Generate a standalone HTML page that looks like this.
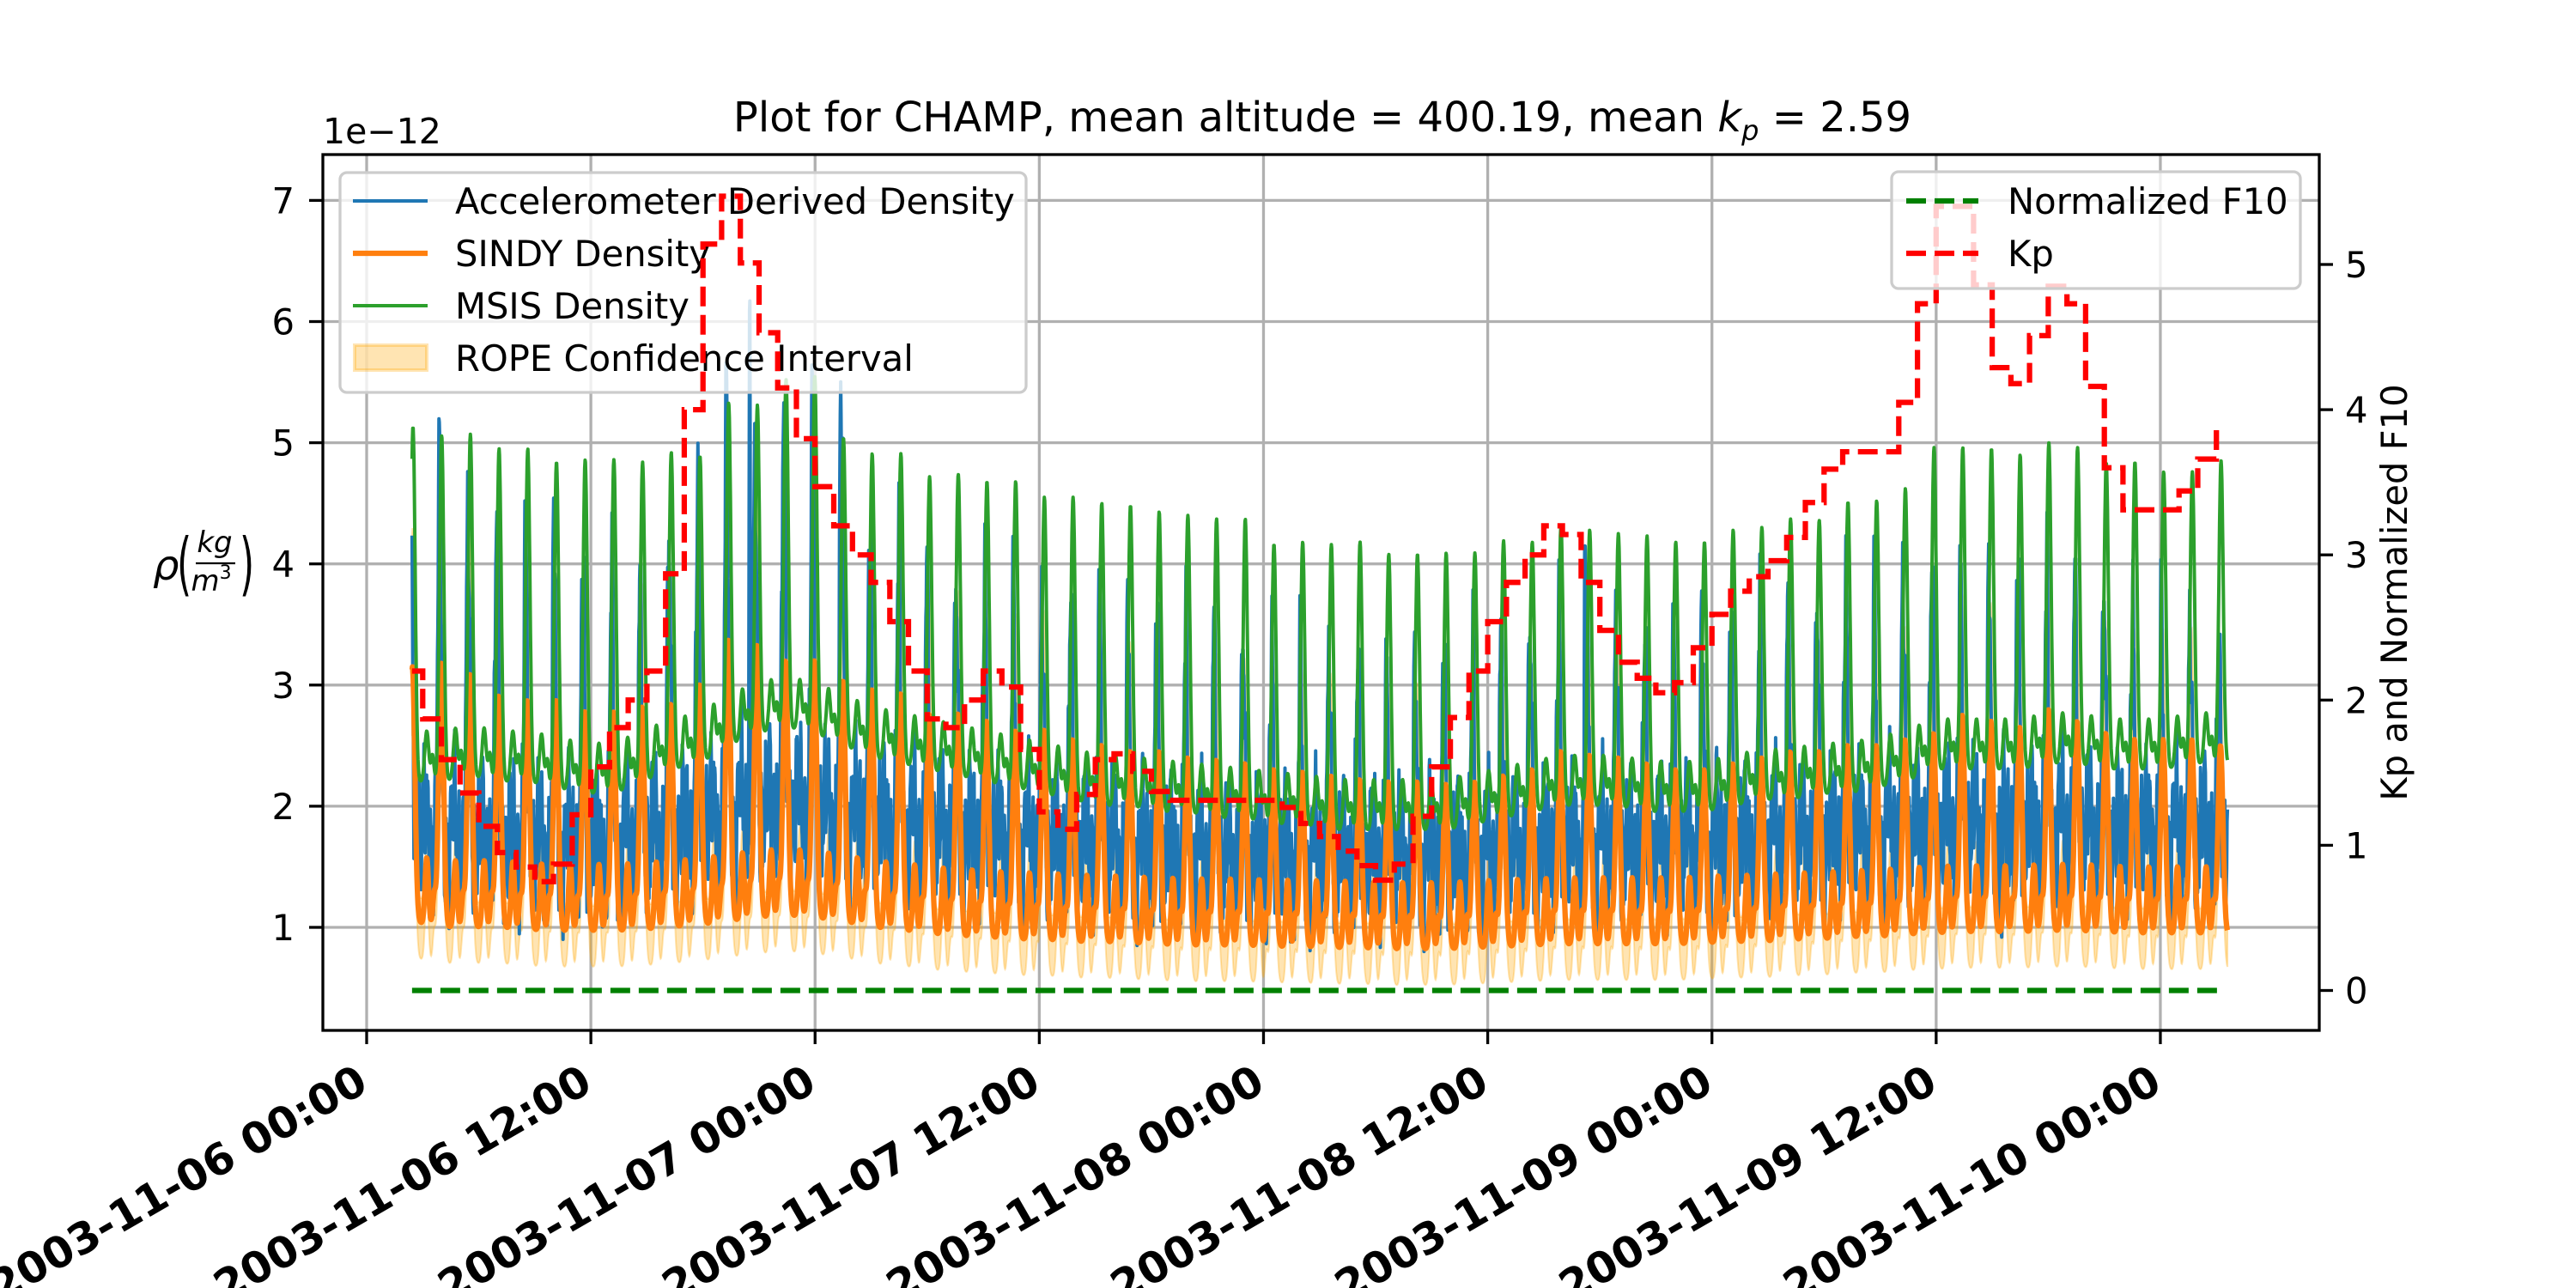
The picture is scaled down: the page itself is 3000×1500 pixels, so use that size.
<!DOCTYPE html>
<html>
<head>
<meta charset="utf-8">
<style>
  html,body{margin:0;padding:0;background:#fff;}
  svg{display:block;}
  text{font-family:"DejaVu Sans","Liberation Sans",sans-serif;fill:#000;}
</style>
</head>
<body>
<svg id="chart" xmlns="http://www.w3.org/2000/svg" width="3000" height="1500" viewBox="0 0 3000 1500">
  <defs>
    <clipPath id="plotclip"><rect x="376" y="180" width="2325" height="1020"/></clipPath>
  </defs>
  <rect x="0" y="0" width="3000" height="1500" fill="#fff"/>
  <text x="1540" y="153" font-size="48" text-anchor="middle">Plot for CHAMP, mean altitude = 400.19, mean <tspan font-style="italic">k</tspan><tspan font-style="italic" font-size="32" dy="10">p</tspan><tspan dy="-10"> = 2.59</tspan></text>
  <text x="376" y="167" font-size="41">1e−12</text>
  <g id="grid"></g>
  <g id="series1" clip-path="url(#plotclip)"></g>
  <g id="legend1">
    <rect x="396" y="201" width="799" height="256" rx="8" fill="#fff" fill-opacity="0.8" stroke="#cccccc" stroke-width="3.3"/>
    <line x1="411" y1="234" x2="498" y2="234" stroke="#1f77b4" stroke-width="4"/>
    <text x="530" y="249" font-size="41.7">Accelerometer Derived Density</text>
    <line x1="411" y1="295" x2="498" y2="295" stroke="#ff7f0e" stroke-width="6.25"/>
    <text x="530" y="310" font-size="41.7">SINDY Density</text>
    <line x1="411" y1="356" x2="498" y2="356" stroke="#2ca02c" stroke-width="4"/>
    <text x="530" y="371" font-size="41.7">MSIS Density</text>
    <rect x="413" y="402" width="84" height="29" fill="#ffa500" fill-opacity="0.3" stroke="#ffa500" stroke-opacity="0.3" stroke-width="4"/>
    <text x="530" y="432" font-size="41.7">ROPE Confidence Interval</text>
  </g>
  <g id="series2" clip-path="url(#plotclip)"></g>
  <g id="legend2">
    <rect x="2203" y="200" width="476" height="136" rx="8" fill="#fff" fill-opacity="0.8" stroke="#cccccc" stroke-width="3.3"/>
    <line x1="2220" y1="234" x2="2304" y2="234" stroke="#008000" stroke-width="6.25" stroke-dasharray="23 10"/>
    <text x="2338" y="249" font-size="41.7">Normalized F10</text>
    <line x1="2220" y1="295" x2="2304" y2="295" stroke="#ff0000" stroke-width="6.25" stroke-dasharray="23 10"/>
    <text x="2338" y="310" font-size="41.7">Kp</text>
  </g>
  <rect x="376" y="180" width="2325" height="1020" fill="none" stroke="#000" stroke-width="3.3"/>
  <g id="axes"></g>
  <g>
    <text x="178" y="675" font-size="48" font-style="italic">ρ</text>
    <text x="206" y="684" font-size="80" transform="translate(206 684) scale(0.55 1) translate(-206 -684)">(</text>
    <text x="250" y="643" font-size="34" font-style="italic" text-anchor="middle">kg</text>
    <line x1="228" y1="656" x2="274" y2="656" stroke="#000" stroke-width="2.2"/>
    <text x="246" y="688" font-size="34" font-style="italic" text-anchor="middle">m<tspan font-size="22" font-style="normal" dy="-14">3</tspan></text>
    <text x="279" y="684" font-size="80" transform="translate(279 684) scale(0.55 1) translate(-279 -684)">)</text>
  </g>
  <text x="0" y="0" font-size="41.7" text-anchor="middle" transform="translate(2803 690) rotate(-90)">Kp and Normalized F10</text>
</svg>
<script>
// ---- data ----
const xTickLabels = ["2003-11-06 00:00","2003-11-06 12:00","2003-11-07 00:00","2003-11-07 12:00","2003-11-08 00:00","2003-11-08 12:00","2003-11-09 00:00","2003-11-09 12:00","2003-11-10 00:00"];
const xTickHours = [0,12,24,36,48,60,72,84,96];
const leftTicks = [1,2,3,4,5,6,7];
const rightTicks = [0,1,2,3,4,5];
const kpStartHour = 2;
const kpValues = [2.2,1.87,1.59,1.36,1.13,0.95,0.85,0.75,0.87,1.21,
1.54,1.81,2.0,2.2,2.87,4.0,5.14,5.47,5.01,4.53,
4.15,3.8,3.47,3.2,3.0,2.81,2.54,2.2,1.87,1.81,
2.0,2.2,2.09,1.66,1.23,1.11,1.35,1.59,1.63,1.51,
1.37,1.31,1.31,1.31,1.31,1.31,1.31,1.26,1.15,1.06,
0.96,0.86,0.76,0.87,1.2,1.54,1.88,2.2,2.54,2.81,
3.0,3.2,3.14,2.81,2.48,2.26,2.15,2.05,2.12,2.36,
2.59,2.75,2.85,2.96,3.12,3.36,3.59,3.71,3.71,3.71,
4.05,4.73,5.4,5.4,4.86,4.29,4.18,4.51,4.85,4.73,
4.16,3.6,3.31,3.31,3.31,3.44,3.66,3.9];
const f10Value = 0;
const msisPeak = [5.13,5.06,5.07,4.95,4.95,4.84,4.86,4.86,4.84,4.92,
4.89,5.33,5.31,5.52,5.55,5.04,4.91,4.91,4.72,4.74,
4.68,4.68,4.55,4.55,4.5,4.48,4.43,4.4,4.37,4.37,
4.16,4.18,4.16,4.18,4.08,4.08,4.09,4.09,4.19,4.18,
4.31,4.28,4.25,4.23,4.18,4.18,4.28,4.3,4.37,4.36,
4.51,4.52,4.62,4.96,4.96,4.95,4.9,5.0,4.96,4.83,
4.84,4.76,4.76,4.85];
const msisTrough = [2.2,2.2,2.25,2.2,2.2,2.15,2.1,2.1,2.2,2.3,
2.35,2.5,2.6,2.65,2.6,2.5,2.4,2.35,2.3,2.25,
2.2,2.15,2.1,2.05,2.0,2.0,1.95,1.95,1.9,1.9,
1.85,1.85,1.8,1.8,1.8,1.8,1.8,1.85,1.9,1.95,
2.0,2.0,2.0,1.95,1.95,1.95,2.0,2.05,2.05,2.1,
2.1,2.15,2.2,2.3,2.3,2.3,2.3,2.35,2.35,2.3,
2.3,2.3,2.35,2.35];
const sindyPeak = [3.15,3.18,3.09,2.91,2.87,2.87,2.78,2.78,2.82,2.84,
3.0,3.37,3.33,3.2,3.2,3.03,2.96,2.93,2.76,2.76,
2.7,2.62,2.63,2.55,2.5,2.45,2.45,2.4,2.38,2.35,
2.3,2.28,2.25,2.22,2.2,2.2,2.18,2.2,2.25,2.3,
2.45,2.42,2.4,2.35,2.3,2.3,2.35,2.4,2.45,2.45,
2.5,2.5,2.55,2.6,2.75,2.7,2.65,2.8,2.7,2.6,
2.55,2.55,2.55,2.5];
const sindyTrough = [1.05,1.0,1.0,1.0,0.98,0.97,0.97,0.97,0.98,1.0,
1.02,1.05,1.08,1.1,1.08,1.05,1.0,0.98,0.95,0.93,
0.92,0.9,0.9,0.88,0.88,0.87,0.86,0.85,0.85,0.85,
0.84,0.84,0.83,0.83,0.82,0.82,0.82,0.83,0.84,0.85,
0.86,0.86,0.86,0.86,0.86,0.87,0.88,0.88,0.9,0.9,
0.92,0.92,0.94,0.95,0.96,0.96,0.96,0.97,0.97,0.96,
0.95,0.95,0.95,0.95];
const accelPeak = [4.95,4.8,4.5,4.5,4.3,4.3,4.05,3.95,3.85,4.3,
4.57,5.27,4.9,5.4,5.47,5.29,4.3,4.2,4.0,3.9,
3.9,3.8,3.7,3.75,3.7,3.6,3.6,3.5,3.5,3.4,
3.3,3.3,3.2,3.2,3.1,3.15,3.2,3.3,3.4,3.5,
3.6,3.5,3.5,3.4,3.4,3.5,3.5,3.6,3.7,3.7,
3.8,3.8,3.9,4.0,3.9,3.9,4.0,3.95,3.9,3.8,
3.6,3.6,3.5,3.3];
const accelTrough = [1.6,1.6,1.55,1.55,1.5,1.5,1.5,1.5,1.55,1.6,
1.65,1.75,1.8,1.85,1.8,1.75,1.7,1.65,1.6,1.6,
1.55,1.55,1.5,1.5,1.5,1.45,1.45,1.45,1.4,1.4,
1.4,1.4,1.4,1.4,1.4,1.4,1.4,1.4,1.45,1.45,
1.5,1.5,1.5,1.5,1.5,1.5,1.5,1.55,1.55,1.55,
1.6,1.6,1.6,1.65,1.65,1.65,1.65,1.65,1.65,1.6,
1.6,1.6,1.6,1.6];
const accelSpikeHours = [20.5, 25.5, 65.2, 87.5];
const accelSpikeValues = [6.95, 5.29, 4.55, 0.75];
const dataStartHour = 2.43;
const dataEndHour = 99.6;
const kpEndHour = 99.1;
const firstPeakHour = 2.48;
const orbitHours = 1.536;

// ---- axis functions ----
const X0 = 427, PXH = 21.76;
function xs(h){ return X0 + h*PXH; }
function yl(v){ return 1080 - (v-1)*141.1; }
function yr(k){ return 1153.5 - k*169.1; }

const NS = "http://www.w3.org/2000/svg";
function mk(tag, attrs, parent){
  const e = document.createElementNS(NS, tag);
  for (const k in attrs) e.setAttribute(k, attrs[k]);
  parent.appendChild(e);
  return e;
}
function G(x,s){ return Math.exp(-x*x/(2*s*s)); }
function interpArr(arr,u){
  if (u<=0) return arr[0];
  if (u>=arr.length-1) return arr[arr.length-1];
  const i=Math.floor(u), f=u-i;
  return arr[i]*(1-f)+arr[i+1]*f;
}

// ---- grid ----
const grid = document.getElementById('grid');
xTickHours.forEach(h=>{
  const l = mk('line',{x1:xs(h),x2:xs(h),y1:180,y2:1200,stroke:'#b0b0b0','stroke-width':3.3},grid);
  
  
});
leftTicks.forEach(v=>{
  const l = mk('line',{x1:376,x2:2701,y1:yl(v),y2:yl(v),stroke:'#b0b0b0','stroke-width':3.3},grid);
  
  
});

// ---- series ----
const T=[]; for(let t=dataStartHour;t<=dataEndHour+1e-9;t+=0.02) T.push(t);
function orbitPos(t){
  const u=(t-firstPeakHour)/orbitHours;
  let ph=u-Math.floor(u);
  const d=Math.min(ph,1-ph);
  const un=Math.round(u);
  return {u,ph,d,un};
}
function msisAt(t){
  const o=orbitPos(t);
  const P=interpArr(msisPeak,o.un<0?0:o.un), B=interpArr(msisTrough,o.u);
  return B + (P-B)*G(o.d,0.075) + 0.42*G(o.ph-0.48,0.07) + 0.22*G(o.ph-0.68,0.05);
}
function sindyAt(t){
  const o=orbitPos(t+0.02*orbitHours);
  const P=interpArr(sindyPeak,o.un<0?0:o.un), B=interpArr(sindyTrough,o.u);
  return B + (P-B)*G(o.d,0.085) + 0.55*G(o.ph-0.5,0.06) + 0.25*G(o.ph-0.76,0.05);
}
function accelAt(t){
  const o=orbitPos(t+0.08*orbitHours);
  const P=interpArr(accelPeak,o.un<0?0:o.un), B=interpArr(accelTrough,o.u);
  let v = B + (P-B)*G(o.d,0.06) + 0.5*G(o.ph-0.5,0.08)
        + 0.3*Math.sin(2*Math.PI*o.u*7.3) + 0.22*Math.sin(2*Math.PI*o.u*13.1+1.3) + 0.14*Math.sin(2*Math.PI*o.u*23.7+0.4);
  for(let i=0;i<accelSpikeHours.length;i++){
    const dt=Math.abs(t-accelSpikeHours[i]);
    if(dt<0.06){ v = v + (accelSpikeValues[i]-v)*(1-dt/0.06); }
  }
  return v;
}
function pathFrom(fn,yfun){
  let s='';
  T.forEach((t,i)=>{ s+=(i?'L':'M')+xs(t).toFixed(1)+' '+yfun(fn(t)).toFixed(1); });
  return s;
}
const s1=document.getElementById('series1');
let up='', lo='';
T.forEach((t,i)=>{
  const o=orbitPos(t+0.02*orbitHours);
  const P=interpArr(sindyPeak,o.un<0?0:o.un), B=interpArr(sindyTrough,o.u);
  const s=sindyAt(t), g=G(o.d,0.065);
  up+=(i?'L':'M')+xs(t).toFixed(1)+' '+yl(s+0.2+0.45*(P-B)*g).toFixed(1);
});
for(let i=T.length-1;i>=0;i--){
  const t=T[i];
  const o=orbitPos(t+0.02*orbitHours);
  const s=sindyAt(t);
  lo+='L'+xs(t).toFixed(1)+' '+yl(s-0.3-0.25*G(o.d,0.08)).toFixed(1);
}
const band=mk('path',{d:up+lo+'Z',fill:'#ffa500','fill-opacity':0.3,stroke:'#ffa500','stroke-opacity':0.3,'stroke-width':2},s1);


const accel=mk('path',{d:pathFrom(accelAt,yl),fill:'none',stroke:'#1f77b4','stroke-width':4,'stroke-linejoin':'round'},s1);


const sindy=mk('path',{d:pathFrom(sindyAt,yl),fill:'none',stroke:'#ff7f0e','stroke-width':6.25,'stroke-linejoin':'round'},s1);


const msis=mk('path',{d:pathFrom(msisAt,yl),fill:'none',stroke:'#2ca02c','stroke-width':4,'stroke-linejoin':'round'},s1);



// ---- Kp & F10 ----
const s2=document.getElementById('series2');
let kd='M'+xs(dataStartHour).toFixed(1)+' '+yr(kpValues[0]).toFixed(1);
for(let i=1;i<kpValues.length;i++){
  const h=kpStartHour+i;
  kd+='L'+xs(h).toFixed(1)+' '+yr(kpValues[i-1]).toFixed(1);
  kd+='L'+xs(h).toFixed(1)+' '+yr(kpValues[i]).toFixed(1);
}
kd+='L'+xs(kpEndHour).toFixed(1)+' '+yr(kpValues[kpValues.length-1]).toFixed(1);
const f10=mk('path',{d:'M'+xs(dataStartHour)+' '+yr(f10Value)+'L'+xs(dataEndHour-0.2)+' '+yr(f10Value),fill:'none',stroke:'#008000','stroke-width':6.25,'stroke-dasharray':'23 10'},s2);


const kp=mk('path',{d:kd,fill:'none',stroke:'#ff0000','stroke-width':6.25,'stroke-dasharray':'23 10'},s2);



// ---- axes ticks & labels ----
const ax=document.getElementById('axes');
leftTicks.forEach(v=>{
  const t=mk('line',{x1:360,x2:376,y1:yl(v),y2:yl(v),stroke:'#000','stroke-width':3.3},ax);
  
  
  const l=mk('text',{x:343,y:yl(v)+15,'font-size':41.7,'text-anchor':'end'},ax);
  
  
  l.textContent=String(v);
});
rightTicks.forEach(k=>{
  const t=mk('line',{x1:2701,x2:2717,y1:yr(k),y2:yr(k),stroke:'#000','stroke-width':3.3},ax);
  
  
  const l=mk('text',{x:2731,y:yr(k)+15,'font-size':41.7},ax);
  
  
  l.textContent=String(k);
});
xTickHours.forEach((h,i)=>{
  const x=xs(h);
  const t=mk('line',{x1:x,x2:x,y1:1200,y2:1216,stroke:'#000','stroke-width':3.3},ax);
  
  
  const bx=x+4, by=1269;
  const l=mk('text',{x:bx,y:by,'font-size':50,'font-weight':'bold','text-anchor':'end',transform:'rotate(-30 '+bx+' '+by+')'},ax);
  
  
  l.textContent=xTickLabels[i];
});
</script>
</body>
</html>
